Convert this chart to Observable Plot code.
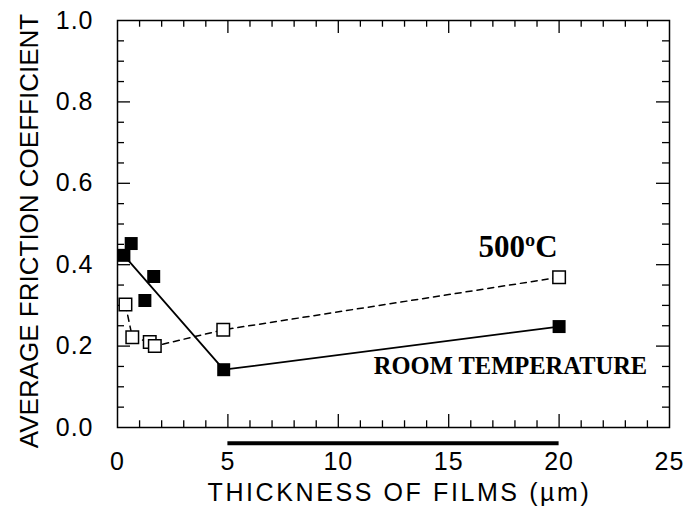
<!DOCTYPE html>
<html><head><meta charset="utf-8">
<script src="https://cdn.jsdelivr.net/npm/d3@7"></script>
<script src="https://cdn.jsdelivr.net/npm/@observablehq/plot@0.6"></script>
<style>
body{margin:0;background:#fff;}
g[aria-description="xtitle"] text{letter-spacing:2.6px;}
g[aria-description="ticklab"] text{letter-spacing:1px;}
</style></head><body><div id="chart"></div>
<script>
// Room temperature (filled squares)
const rtX = [0.29, 0.62, 1.24, 1.64, 4.81, 20];
const rtY = [0.423, 0.452, 0.312, 0.371, 0.142, 0.248];
const rtLine = [0, 4, 5]; // points joined by the solid line
// 500 °C (open squares)
const mtX = [0.36, 0.67, 1.46, 1.69, 4.79, 20];
const mtY = [0.302, 0.222, 0.210, 0.200, 0.240, 0.369];
const mtLine = [0, 1, 2, 3, 4, 5]; // points joined by the dashed line
// axes
const xMajor = [0, 5, 10, 15, 20, 25];
const xMinor = [1,2,3,4,6,7,8,9,11,12,13,14,16,17,18,19,21,22,23,24];
const xMajorInner = [5, 10, 15, 20];
const yMajor = [0, 0.2, 0.4, 0.6, 0.8, 1.0];
const yMinor = [0.05,0.1,0.15,0.25,0.3,0.35,0.45,0.5,0.55,0.65,0.7,0.75,0.85,0.9,0.95];
const yMajorInner = [0.2, 0.4, 0.6, 0.8];
const barX = [5, 20];
const barY = [-0.039];
const xTitle = "THICKNESS OF FILMS (µm)";
const yTitle = "AVERAGE FRICTION COEFFICIENT";
const labelMT = "500ºC";
const labelRT = "ROOM TEMPERATURE";

const rt = rtX.map((x, i) => ({x, y: rtY[i]}));
const mt = mtX.map((x, i) => ({x, y: mtY[i]}));

const serif = "'Liberation Serif', 'Times New Roman', serif";
const mt2 = 0.0165, mj2 = 0.032, mtx = 0.317, mjx = 0.59;

const plot = Plot.plot({
  width: 692, height: 508,
  marginLeft: 117, marginRight: 23, marginTop: 20, marginBottom: 81,
  x: {domain: [0, 25], label: null},
  y: {domain: [0, 1], label: null},
  style: {fontFamily: "'Liberation Sans', Arial, sans-serif", fontSize: "25px", color: "black", background: "white", overflow: "visible"},
  marks: [
    // inward ticks
    Plot.ruleX(xMinor, {x: d => d, y1: 0, y2: mt2, stroke: "black", strokeWidth: 1.3}),
    Plot.ruleX(xMajorInner, {x: d => d, y1: 0, y2: mj2, stroke: "black", strokeWidth: 1.3}),
    Plot.ruleX(xMinor, {x: d => d, y1: 1, y2: 1 - mt2, stroke: "black", strokeWidth: 1.3}),
    Plot.ruleX(xMajorInner, {x: d => d, y1: 1, y2: 1 - mj2, stroke: "black", strokeWidth: 1.3}),
    Plot.ruleY(yMinor, {y: d => d, x1: 0, x2: mtx, stroke: "black", strokeWidth: 1.3}),
    Plot.ruleY(yMajorInner, {y: d => d, x1: 0, x2: mjx, stroke: "black", strokeWidth: 1.3}),
    Plot.ruleY(yMinor, {y: d => d, x1: 25, x2: 25 - mtx, stroke: "black", strokeWidth: 1.3}),
    Plot.ruleY(yMajorInner, {y: d => d, x1: 25, x2: 25 - mjx, stroke: "black", strokeWidth: 1.3}),
    Plot.frame({stroke: "black", strokeWidth: 1.5}),
    Plot.axisX(xMajor, {anchor: "bottom", tickSize: 0, tickPadding: 25, tickFormat: d => String(d), fontSize: 25, ariaDescription: "ticklab"}),
    Plot.axisY(yMajor, {anchor: "left", tickSize: 0, tickPadding: 24, tickFormat: d => d.toFixed(1), fontSize: 25, ariaDescription: "ticklab"}),
    Plot.ruleY(barY, {y: d => d, x1: barX[0], x2: barX[1], stroke: "black", strokeWidth: 4}),
    Plot.text([xTitle], {frameAnchor: "bottom", textAnchor: "middle", dx: 6, dy: 56, lineAnchor: "top", fontSize: 25, ariaDescription: "xtitle"}),
    Plot.text([yTitle], {frameAnchor: "left", textAnchor: "middle", lineAnchor: "middle", rotate: -90, dx: -88, dy: 7, fontSize: 26}),
    // lines
    Plot.line(mtLine.map(i => mt[i]), {x: "x", y: "y", stroke: "black", strokeWidth: 1.5, strokeDasharray: "6,5"}),
    Plot.line(rtLine.map(i => rt[i]), {x: "x", y: "y", stroke: "black", strokeWidth: 1.8}),
    // points
    Plot.dot(mt, {x: "x", y: "y", symbol: "square", r: 7.05, fill: "white", stroke: "black", strokeWidth: 1.5}),
    Plot.dot(rt, {x: "x", y: "y", symbol: "square", r: 7.33, fill: "black", stroke: "none"}),
    // annotations
    Plot.text([labelMT], {x: 16.35, y: 0.418, textAnchor: "start", lineAnchor: "bottom", fontFamily: serif, fontWeight: "bold", fontSize: 31}),
    Plot.text([labelRT], {x: 11.61, y: 0.132, textAnchor: "start", lineAnchor: "bottom", fontFamily: serif, fontWeight: "bold", fontSize: 24.5})
  ]
});
document.getElementById("chart").appendChild(plot);
</script></body></html>
